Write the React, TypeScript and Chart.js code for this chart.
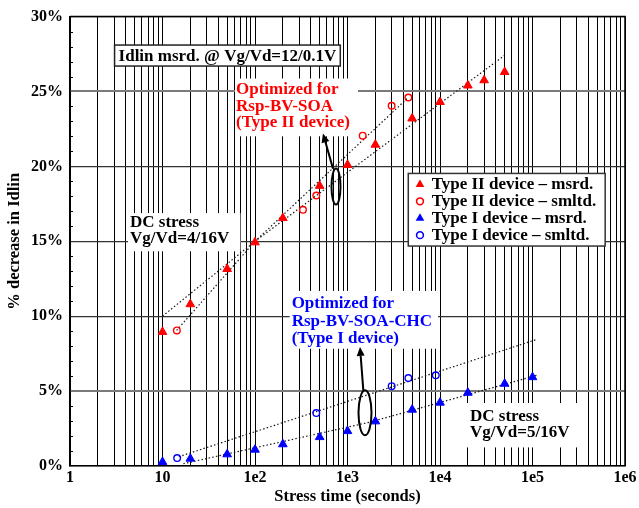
import React, { useEffect, useRef } from 'react';
import { Chart, registerables } from 'chart.js';

Chart.register(...registerables);

const FONT = "'Liberation Serif', 'Times New Roman', Times, serif";

// ---- data (stress time in seconds, % decrease in Idlin) ----
const t2MsrdX = [10, 20, 50, 100, 200, 500, 1000, 2000, 5000, 10000, 20000, 30000, 50000];
const t2MsrdY = [8.95, 10.8, 13.15, 14.93, 16.55, 18.7, 20.1, 21.45, 23.2, 24.3, 25.4, 25.75, 26.3];
const t2SmltdX = [14.3, 330, 460, 1460, 3000, 4550];
const t2SmltdY = [9.05, 17.1, 18.05, 22.05, 24.05, 24.6];
const t1MsrdX = [10, 20, 50, 100, 200, 500, 1000, 2000, 5000, 10000, 20000, 50000, 100000];
const t1MsrdY = [0.27, 0.49, 0.78, 1.09, 1.45, 1.93, 2.33, 2.98, 3.76, 4.23, 4.89, 5.49, 5.93];
const t1SmltdX = [14.4, 460, 3000, 4550, 9000];
const t1SmltdY = [0.53, 3.53, 5.33, 5.87, 6.05];

// dotted trend lines
const fitT2MsrdX = [10, 100, 49600];
const fitT2MsrdY = [10.0, 15.0, 27.4];
const fitT2SmltdX = [14.2, 100, 4540];
const fitT2SmltdY = [9.05, 15.0, 24.6];
const fitT1MsrdX = [16.8, 1750, 111000];
const fitT1MsrdY = [0.15, 2.93, 6.05];
const fitT1SmltdX = [15, 111000];
const fitT1SmltdY = [0.62, 8.45];

// ticks
const xTickValues = [1, 10, 100, 1000, 10000, 100000, 1000000];
const xTickLabels = ['1', '10', '1e2', '1e3', '1e4', '1e5', '1e6'];
const yTickValues = [0, 5, 10, 15, 20, 25, 30];
const yTickLabels = ['0%', '5%', '10%', '15%', '20%', '25%', '30%'];

const legendLabels = [
  'Type II device \u2013 msrd.',
  'Type II device \u2013 smltd.',
  'Type I device \u2013 msrd.',
  'Type I device \u2013 smltd.',
];

const noteTitle = ['Idlin msrd. @ Vg/Vd=12/0.1V'];
const noteType2 = ['Optimized for', 'Rsp-BV-SOA', '(Type II device)'];
const noteDc1 = ['DC stress', 'Vg/Vd=4/16V'];
const noteType1 = ['Optimized for', 'Rsp-BV-SOA-CHC', '(Type I device)'];
const noteDc2 = ['DC stress', 'Vg/Vd=5/16V'];

const RED = '#ff0000';
const BLUE = '#0000ff';

const pts = (xs: number[], ys: number[]) => xs.map((x, i) => ({ x, y: ys[i] }));

// annotation placement in data units (x: seconds, y: %)
const notes = [
  { lines: noteTitle, color: '#000', x: 3.35, y: 27.4, lh: 17, size: 17, pad: [4, 2, 4, 2], border: true },
  { lines: noteType2, color: RED, x: 62.3, y: 25.18, lh: 16.6, size: 17, pad: [1, 2, 8, 6], border: false },
  { lines: noteDc1, color: '#000', x: 4.45, y: 16.33, lh: 16.6, size: 17, pad: [2, 0, 11, 5], border: false },
  { lines: noteType1, color: BLUE, x: 249, y: 10.9, lh: 17.6, size: 17, pad: [2, 3, 6, 2], border: false },
  { lines: noteDc2, color: '#000', x: 21100, y: 3.38, lh: 16.7, size: 17, pad: [3, 4, 9, 7], border: false },
];

const callouts = [
  { cx: 751, cy: 18.65, rx: 4.5, ry: 18, fromX: 697, fromY: 19.85, toX: 543, toY: 22.2 },
  { cx: 1546, cy: 3.55, rx: 6.5, ry: 22.5, fromX: 1483, fromY: 5.05, toX: 1365, toY: 7.95 },
];

const legendAnchor = { x: 4540, y: 19.53 };

function drawNote(ctx: CanvasRenderingContext2D, xs: any, ys: any, n: any) {
  ctx.font = `bold ${n.size}px ${FONT}`;
  const left = xs.getPixelForValue(n.x);
  const cy = ys.getPixelForValue(n.y);
  const w = Math.max(...n.lines.map((l: string) => ctx.measureText(l).width));
  const [pl, pt, pr, pb] = n.pad;
  const bx = left - pl;
  const by = cy - n.lh / 2 - pt;
  const bw = w + pl + pr;
  const bh = n.lines.length * n.lh + pt + pb;
  ctx.fillStyle = '#fff';
  ctx.fillRect(bx, by, bw, bh);
  if (n.border) {
    ctx.strokeStyle = '#222';
    ctx.lineWidth = 1.5;
    ctx.strokeRect(bx, by, bw, bh);
  }
  ctx.fillStyle = n.color;
  ctx.textBaseline = 'middle';
  ctx.textAlign = 'left';
  n.lines.forEach((l: string, i: number) => ctx.fillText(l, left, cy + i * n.lh + 1));
}

function drawTri(ctx: CanvasRenderingContext2D, x: number, y: number, r: number, color: string) {
  ctx.beginPath();
  const h = r * 1.5;
  const half = r * Math.sqrt(3) / 2;
  ctx.moveTo(x, y - r);
  ctx.lineTo(x + half, y + h - r);
  ctx.lineTo(x - half, y + h - r);
  ctx.closePath();
  ctx.fillStyle = color;
  ctx.fill();
}

function drawCirc(ctx: CanvasRenderingContext2D, x: number, y: number, r: number, color: string) {
  ctx.beginPath();
  ctx.arc(x, y, r, 0, Math.PI * 2);
  ctx.strokeStyle = color;
  ctx.lineWidth = 1.6;
  ctx.stroke();
}

const annotPlugin = {
  id: 'annot',
  beforeDatasetsDraw(chart: any) {
    const { ctx, scales: { x, y } } = chart;
    ctx.save();
    for (const n of notes) drawNote(ctx, x, y, n);

    // legend
    ctx.font = `bold 17px ${FONT}`;
    const lx = x.getPixelForValue(legendAnchor.x);
    const ly = y.getPixelForValue(legendAnchor.y);
    const tw = Math.max(...legendLabels.map((l) => ctx.measureText(l).width));
    const rowH = 16.9;
    const bw = 23.4 + tw + 9;
    const bh = rowH * 4 + 5;
    ctx.fillStyle = '#fff';
    ctx.fillRect(lx, ly, bw, bh);
    ctx.strokeStyle = '#333';
    ctx.lineWidth = 1.5;
    ctx.strokeRect(lx, ly, bw, bh);
    const kinds = [
      ['tri', RED], ['circ', RED], ['tri', BLUE], ['circ', BLUE],
    ];
    legendLabels.forEach((l, i) => {
      const cy = ly + 10 + i * rowH;
      const [k, c] = kinds[i];
      if (k === 'tri') drawTri(ctx, lx + 11.7, cy + 1, 5, c);
      else drawCirc(ctx, lx + 11.7, cy + 1, 3.4, c);
      ctx.fillStyle = '#000';
      ctx.textBaseline = 'middle';
      ctx.textAlign = 'left';
      ctx.fillText(l, lx + 23.4, cy + 1);
    });
    ctx.restore();
  },
  afterDraw(chart: any) {
    const { ctx, chartArea: a, scales: { x, y } } = chart;
    ctx.save();
    // frame top/right
    ctx.strokeStyle = '#000';
    ctx.lineWidth = 1.5;
    ctx.beginPath();
    ctx.moveTo(a.left, a.top);
    ctx.lineTo(a.right, a.top);
    ctx.lineTo(a.right, a.bottom);
    ctx.stroke();
    // minor y ticks
    ctx.lineWidth = 1;
    for (let v = 1; v < 30; v++) {
      if (v % 5 === 0) continue;
      const py = Math.round(y.getPixelForValue(v)) + 0.5;
      ctx.beginPath();
      ctx.moveTo(a.left, py);
      ctx.lineTo(a.left + 3, py);
      ctx.stroke();
    }
    // callouts: ellipse + arrow
    for (const c of callouts) {
      const cx = x.getPixelForValue(c.cx);
      const cy = y.getPixelForValue(c.cy);
      ctx.beginPath();
      ctx.ellipse(cx, cy, c.rx, c.ry, 0, 0, Math.PI * 2);
      ctx.strokeStyle = '#000';
      ctx.lineWidth = 2;
      ctx.stroke();
      const fx = x.getPixelForValue(c.fromX);
      const fy = y.getPixelForValue(c.fromY);
      const tx = x.getPixelForValue(c.toX);
      const ty = y.getPixelForValue(c.toY);
      const ang = Math.atan2(ty - fy, tx - fx);
      const hl = 9;
      const hw = 4;
      const bx = tx - hl * Math.cos(ang);
      const by = ty - hl * Math.sin(ang);
      ctx.beginPath();
      ctx.moveTo(fx, fy);
      ctx.lineTo(bx, by);
      ctx.stroke();
      ctx.beginPath();
      ctx.moveTo(tx, ty);
      ctx.lineTo(bx + hw * Math.sin(ang), by - hw * Math.cos(ang));
      ctx.lineTo(bx - hw * Math.sin(ang), by + hw * Math.cos(ang));
      ctx.closePath();
      ctx.fillStyle = '#000';
      ctx.fill();
    }
    ctx.restore();
  },
};

export default function App() {
  const ref = useRef<HTMLCanvasElement | null>(null);

  useEffect(() => {
    document.body.style.margin = '0';
    if (!ref.current) return;
    Chart.defaults.font.family = FONT;

    const allXTicks: number[] = [];
    for (let e = 0; e < 6; e++) {
      for (let m = 1; m < 10; m++) allXTicks.push(m * Math.pow(10, e));
    }
    allXTicks.push(1e6);

    const dotted = (xs: number[], ys: number[]) => ({
      data: pts(xs, ys),
      showLine: true,
      borderColor: '#1a1a1a',
      borderWidth: 1.2,
      borderDash: [1.5, 2.2],
      pointRadius: 0,
      fill: false,
      tension: 0,
    });

    const chart = new Chart(ref.current, {
      type: 'scatter',
      data: {
        datasets: [
          { label: legendLabels[0], data: pts(t2MsrdX, t2MsrdY), pointStyle: 'triangle', pointRadius: 5, backgroundColor: RED, borderColor: RED, borderWidth: 1 },
          { label: legendLabels[1], data: pts(t2SmltdX, t2SmltdY), pointStyle: 'circle', pointRadius: 3.3, backgroundColor: 'rgba(255,255,255,0)', borderColor: RED, borderWidth: 1.4 },
          { label: legendLabels[2], data: pts(t1MsrdX, t1MsrdY), pointStyle: 'triangle', pointRadius: 5, backgroundColor: BLUE, borderColor: BLUE, borderWidth: 1 },
          { label: legendLabels[3], data: pts(t1SmltdX, t1SmltdY), pointStyle: 'circle', pointRadius: 3.3, backgroundColor: 'rgba(255,255,255,0)', borderColor: BLUE, borderWidth: 1.4 },
          dotted(fitT2MsrdX, fitT2MsrdY),
          dotted(fitT2SmltdX, fitT2SmltdY),
          dotted(fitT1MsrdX, fitT1MsrdY),
          dotted(fitT1SmltdX, fitT1SmltdY),
        ] as any,
      },
      options: {
        animation: false,
        responsive: true,
        maintainAspectRatio: false,
        layout: { padding: { top: 15, right: 14, left: 0, bottom: 0 } },
        plugins: { legend: { display: false }, tooltip: { enabled: false } },
        scales: {
          x: {
            type: 'logarithmic',
            min: 1,
            max: 1e6,
            afterBuildTicks: (s: any) => {
              s.ticks = allXTicks.map((v) => ({ value: v }));
            },
            afterFit: (s: any) => {
              s.height = 42;
            },
            ticks: {
              autoSkip: false,
              maxRotation: 0,
              padding: 2,
              color: '#000',
              font: { size: 16, weight: 'bold', family: FONT },
              callback: (v: any) => {
                const i = xTickValues.findIndex((t) => Math.abs(t - v) < t * 1e-6);
                return i >= 0 ? xTickLabels[i] : '';
              },
            },
            grid: { color: '#000', lineWidth: 1, drawTicks: false },
            border: { color: '#000', width: 1.5 },
            title: {
              display: true,
              text: 'Stress time (seconds)',
              color: '#000',
              font: { size: 16.5, weight: 'bold', family: FONT },
              padding: { top: 0, bottom: 1 },
            },
          },
          y: {
            type: 'linear',
            min: 0,
            max: 30,
            afterFit: (s: any) => {
              s.width = 70;
            },
            ticks: {
              stepSize: 1,
              autoSkip: false,
              padding: 7,
              color: '#000',
              font: { size: 16, weight: 'bold', family: FONT },
              callback: (v: any) => {
                const i = yTickValues.indexOf(Number(v));
                return i >= 0 ? yTickLabels[i] : '';
              },
            },
            grid: {
              drawTicks: false,
              color: (c: any) => {
                const v = c.tick ? c.tick.value : 0;
                if (v % 5 !== 0) return 'rgba(0,0,0,0)';
                return v === 5 || v === 25 ? '#7a7a7a' : '#333';
              },
              lineWidth: (c: any) => {
                const v = c.tick ? c.tick.value : 0;
                return v === 5 || v === 25 ? 2 : 1.2;
              },
            },
            border: { color: '#000', width: 1.5 },
            title: {
              display: true,
              text: '% decrease in Idlin',
              color: '#000',
              font: { size: 16.5, weight: 'bold', family: FONT },
              padding: { top: 5, bottom: 0 },
            },
          },
        },
      } as any,
      plugins: [annotPlugin as any],
    });
    return () => chart.destroy();
  }, []);

  return (
    <div style={{ position: 'relative', width: 639, height: 508 }}>
      <canvas ref={ref} />
    </div>
  );
}
